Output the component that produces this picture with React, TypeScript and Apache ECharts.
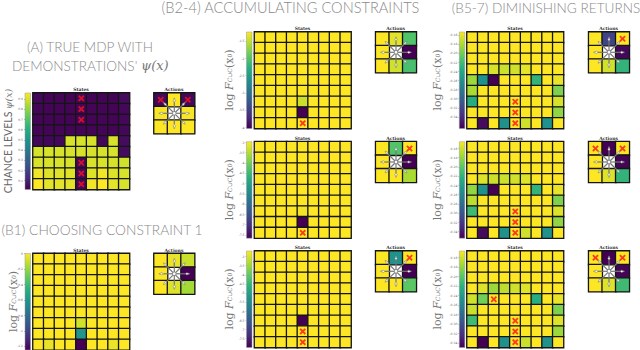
import React, { useEffect, useRef } from "react";
import * as echarts from "echarts";

const cats = ["0", "1", "2", "3", "4", "5", "6", "7", "8"];
const actionCats = ["0", "1", "2"];
const viridis = ["#440154", "#472d7b", "#3b528b", "#2c728e", "#21918c", "#28ae80", "#5ec962", "#addc30", "#fde725"];

const stateA = [
  [.02,.01,.01,.01,.02,.01,.01,.01,.03],
  [.01,.01,.01,.01,.01,.01,.01,.01,.02],
  [.01,.01,.01,.01,.01,.01,.01,.01,.02],
  [.01,.01,.01,.01,.01,.01,.01,.01,.02],
  [.02,.02,.02,.94,.94,.94,.02,.94,.03],
  [.94,.94,.94,.94,.94,.94,.94,.94,.03],
  [.94,.94,.94,.94,.02,.94,.94,.94,.93],
  [.98,.95,.95,.95,.02,.95,.98,.95,.94],
  [1,.96,.96,.96,.02,.98,1,.96,.94],
];
const actionA = [[.02,1,.02],[.99,null,.99],[1,1,1]];
const crossA = [[0,4],[1,4],[2,4],[6,4],[7,4],[8,4]];
const crossActA = [[0,0],[0,2]];

const allYellow = [1,1,1,1,1,1,1,1,1];

const stateB1 = [allYellow,allYellow,allYellow,allYellow,allYellow,allYellow,
  [1,1,1,1,.93,1,1,1,1],
  [1,1,1,1,.52,1,1,1,1],
  [1,.97,1,1,0,1,1,.97,1],
];
const actionB1 = [[1,.97,.92],[1,null,0],[1,.95,.86]];

const stateB2 = [allYellow,allYellow,allYellow,allYellow,allYellow,allYellow,
  [1,1,1,1,.92,1,1,1,1],
  [1,1,1,1,0,1,1,1,1],
  allYellow,
];
const actionB2 = [[1,.96,.72],[1,null,0],[1,.93,.7]];
const crossB2 = [[8,4]];
const crossActB2: number[][] = [];

const stateB3 = [allYellow,allYellow,allYellow,allYellow,allYellow,allYellow,
  [1,1,1,1,.98,1,1,1,1],
  [1,1,1,1,0,1,1,1,1],
  allYellow,
];
const actionB3 = [[1,.72,1],[1,null,0],[1,1,.87]];
const crossB3 = [[8,4]];
const crossActB3 = [[0,2]];

const stateB4 = [allYellow,allYellow,allYellow,allYellow,allYellow,allYellow,
  [1,1,1,1,0,1,1,1,1],
  allYellow,
  allYellow,
];
const actionB4 = [[1,.5,1],[1,null,0],[1,1,.74]];
const crossB4 = [[7,4],[8,4]];
const crossActB4 = [[0,2]];

const stateB5 = [allYellow,allYellow,allYellow,
  [1,1,.94,.92,.93,.96,1,1,1],
  [.85,.5,0,1,1,1,.65,1,.97],
  [.87,1,1,1,1,1,1,1,.8],
  [.62,1,1,1,1,1,1,1,.94],
  [1,1,1,1,1,1,1,1,.83],
  [1,.03,1,.5,1,.93,1,.5,1],
];
const actionB5 = [[1,.2,1],[1,null,.02],[1,.93,.65]];
const crossB5 = [[6,4],[7,4],[8,4]];
const crossActB5 = [[0,2]];

const stateB6 = [allYellow,allYellow,allYellow,
  [1,.95,.92,.92,.93,.95,1,1,1],
  [.83,.5,0,1,1,1,.65,1,.97],
  [.9,1,1,1,1,1,1,1,.8],
  [.68,1,1,1,1,1,1,1,.95],
  [1,1,1,1,1,1,1,1,.83],
  [1,.03,1,.5,1,.93,1,.5,1],
];
const actionB6 = [[1,0,1],[1,null,.01],[1,.95,.65]];
const crossB6 = [[6,4],[7,4],[8,4]];
const crossActB6 = [[0,0],[0,2]];

const stateB7 = [allYellow,allYellow,allYellow,
  [1,.95,.85,.9,.93,.95,1,1,1],
  [.93,.78,1,1,1,1,.62,1,.97],
  [.92,1,1,1,1,1,1,1,.8],
  [.68,1,1,1,1,1,1,1,.95],
  [1,1,1,1,1,1,1,1,.85],
  [1,0,1,.5,1,.92,1,.5,1],
];
const actionB7 = [[1,0,1],[1,null,.01],[1,.95,.68]];
const crossB7 = [[4,2],[6,4],[7,4],[8,4]];
const crossActB7 = [[0,0],[0,2]];

const ticksA = [0.9,0.8,0.7,0.6,0.5,0.4,0.3,0.2,0.1];
const rangeA = [0.013, 0.959];
const ticksB1 = [0,-0.2,-0.4,-0.6,-0.8,-1,-1.2];
const rangeB1 = [-1.249, 0];
const ticksB2 = [-1.5,-2,-2.5,-3,-3.5,-4];
const rangeB2 = [-4.03, -1.24];
const ticksB3 = [-3,-3.5,-4,-4.5,-5,-5.5,-6,-6.5,-7,-7.5];
const rangeB3 = [-7.66, -2.97];
const ticksB4 = [-3,-3.5,-4,-4.5,-5,-5.5,-6,-6.5,-7,-7.5];
const rangeB4 = [-7.99, -2.69];
const ticksB5 = [-9.16,-9.18,-9.2,-9.22,-9.24,-9.26,-9.28,-9.3,-9.32,-9.34];
const rangeB5 = [-9.3655, -9.1534];
const ticksB6 = ticksB5;
const rangeB6 = [-9.3544, -9.1457];
const ticksB7 = ticksB5;
const rangeB7 = [-9.349, -9.1459];

const titles = [
  { text: "(A) TRUE MDP WITH", x: 90, y: 48, size: 13.6 },
  { text: "(B1) CHOOSING CONSTRAINT 1", x: 102, y: 230, size: 13.8 },
  { text: "(B2-4) ACCUMULATING CONSTRAINTS", x: 290.5, y: 8, size: 14.6 },
  { text: "(B5-7) DIMINISHING RETURNS", x: 546, y: 9, size: 13.6 },
];

const panels = [
  { x: 33, y: 93, bar: 25, ax: 154, state: stateA, action: actionA, cross: crossA, crossAct: crossActA, ticks: ticksA, range: rangeA, dec: 1, isA: true, lx: 8 },
  { x: 33, y: 253.5, bar: 25, ax: 154, state: stateB1, action: actionB1, cross: [], crossAct: [], ticks: ticksB1, range: rangeB1, dec: 1, isA: false, lx: 13 },
  { x: 254.5, y: 32, bar: 246.5, ax: 375.7, state: stateB2, action: actionB2, cross: crossB2, crossAct: crossActB2, ticks: ticksB2, range: rangeB2, dec: 1, isA: false, lx: 229 },
  { x: 254.5, y: 141.7, bar: 246.5, ax: 375.7, state: stateB3, action: actionB3, cross: crossB3, crossAct: crossActB3, ticks: ticksB3, range: rangeB3, dec: 1, isA: false, lx: 229 },
  { x: 254.5, y: 251, bar: 246.5, ax: 375.7, state: stateB4, action: actionB4, cross: crossB4, crossAct: crossActB4, ticks: ticksB4, range: rangeB4, dec: 1, isA: false, lx: 229 },
  { x: 467, y: 32, bar: 459.3, ax: 588.7, state: stateB5, action: actionB5, cross: crossB5, crossAct: crossActB5, ticks: ticksB5, range: rangeB5, dec: 2, isA: false, lx: 437 },
  { x: 467, y: 141.7, bar: 459.3, ax: 588.7, state: stateB6, action: actionB6, cross: crossB6, crossAct: crossActB6, ticks: ticksB6, range: rangeB6, dec: 2, isA: false, lx: 437 },
  { x: 467, y: 251, bar: 459.3, ax: 588.7, state: stateB7, action: actionB7, cross: crossB7, crossAct: crossActB7, ticks: ticksB7, range: rangeB7, dec: 2, isA: false, lx: 437 },
];

const X_PATH = "path://M2 0 L5 3 L8 0 L10 2 L7 5 L10 8 L8 10 L5 7 L2 10 L0 8 L3 5 L0 2 Z";
const TITLE_STYLE = { fontWeight: 300, color: "#8a8a8a", fontFamily: "Lato" };
const SMALL_HEAD = { fontSize: 4.5, fontWeight: "bold", color: "#333", fontFamily: "DejaVu Serif" };

function toCells(m: (number | null)[][]) {
  const out: any[] = [];
  m.forEach((row, r) => row.forEach((v, c) => { if (v !== null) out.push([c, r, v]); }));
  return out;
}
function toCross(m: number[][]) {
  return m.map(([r, c]) => [c, r]);
}

function buildOption() {
  const grid: any[] = [], xAxis: any[] = [], yAxis: any[] = [], series: any[] = [], title: any[] = [];
  const heatIdx: number[] = [];
  const off = { show: false };

  const addGrid = (left: number, top: number, w: number, h: number, catsUsed: string[]) => {
    const i = grid.length;
    grid.push({ left, top, width: w, height: h, show: true, borderColor: "#777", borderWidth: 1, backgroundColor: "#fff" });
    xAxis.push({ gridIndex: i, type: "category", data: catsUsed, axisLine: off, axisTick: off, axisLabel: off, splitLine: off });
    yAxis.push({ gridIndex: i, type: "category", data: catsUsed, inverse: true, axisLine: off, axisTick: off, axisLabel: off, splitLine: off });
    return i;
  };

  const addHeat = (i: number, m: (number | null)[][], cross: number[][], size: number) => {
    heatIdx.push(series.length);
    series.push({
      type: "heatmap", xAxisIndex: i, yAxisIndex: i, data: toCells(m),
      itemStyle: { borderColor: "#151515", borderWidth: 1.3 }, silent: true,
    });
    if (cross.length) {
      series.push({
        type: "scatter", xAxisIndex: i, yAxisIndex: i, data: toCross(cross), symbol: X_PATH,
        symbolSize: size, itemStyle: { color: "#fa1020" }, z: 5, silent: true,
      });
    }
  };

  panels.forEach((p) => {
    const b = grid.length;
    const barGradient = new echarts.graphic.LinearGradient(0, 1, 0, 0,
      viridis.map((c, k) => ({ offset: k / (viridis.length - 1), color: c })));
    grid.push({ left: p.bar, top: p.y, width: 5.5, height: 96.5, show: true, borderColor: "#999", borderWidth: 0.5, backgroundColor: barGradient });
    xAxis.push({ gridIndex: b, type: "category", data: ["v"], axisLine: off, axisTick: off, axisLabel: off, splitLine: off });
    yAxis.push({
      gridIndex: b, type: "value", min: p.range[0], max: p.range[1], scale: true,
      axisLine: off, splitLine: off,
      axisTick: { show: true, length: 1, customValues: p.ticks, lineStyle: { color: "#888", width: 0.5 } },
      axisLabel: {
        show: true, fontSize: 3, color: "#555", margin: 2, customValues: p.ticks, fontFamily: "DejaVu Serif",
        showMinLabel: true, showMaxLabel: true,
        formatter: (v: number) => (p.dec === 2 || !Number.isInteger(v) ? v.toFixed(p.dec) : String(v)),
      },
    });

    const s = addGrid(p.x, p.y, 96.5, 96.5, cats);
    addHeat(s, p.state, p.cross, 6.5);
    title.push({ text: "States", left: p.x + 48, top: p.y - 6, textAlign: "center", padding: 0, textStyle: SMALL_HEAD });

    const a = addGrid(p.ax, p.y, 40.6, 40.6, actionCats);
    addHeat(a, p.action, p.crossAct, 6.5);
    title.push({ text: "Actions", left: p.ax + 20, top: p.y - 6, textAlign: "center", padding: 0, textStyle: SMALL_HEAD });

    series.push({
      type: "custom", xAxisIndex: a, yAxisIndex: a, z: 6, silent: true,
      data: [[0,0],[1,0],[2,0],[0,1],[2,1],[0,2],[1,2],[2,2]],
      renderItem: (_: any, api: any) => {
        const from = api.coord([1, 1]);
        const to = api.coord([api.value(0), api.value(1)]);
        const dx = to[0] - from[0], dy = to[1] - from[1];
        const len = Math.hypot(dx, dy);
        const ux = dx / len, uy = dy / len;
        const L = 15.5;
        const ex = from[0] + ux * L, ey = from[1] + uy * L;
        const bx = from[0] + ux * (L - 4.5), by = from[1] + uy * (L - 4.5);
        const mx = from[0] + ux * (L - 3), my = from[1] + uy * (L - 3);
        return { type: "group", children: [
          { type: "line", shape: { x1: from[0], y1: from[1], x2: bx, y2: by }, style: { stroke: "#777", lineWidth: 1.2 } },
          { type: "polygon", shape: { points: [[ex, ey], [mx - uy * 1.1, my + ux * 1.1], [bx, by], [mx + uy * 1.1, my - ux * 1.1]] },
            style: { fill: "#fff", stroke: "#777", lineWidth: 0.6 } },
        ] };
      },
    });
    series.push({
      type: "custom", xAxisIndex: a, yAxisIndex: a, z: 7, silent: true, data: [[1, 1]],
      renderItem: (_: any, api: any) => {
        const c = api.coord([1, 1]);
        return { type: "circle", shape: { cx: c[0], cy: c[1], r: 1.8 }, style: { fill: "#fff", stroke: "#777", lineWidth: 0.8 } };
      },
    });
  });

  titles.forEach((t) => {
    title.push({ text: t.text, left: t.x, top: t.y - 8, textAlign: "center", padding: 0, textStyle: { ...TITLE_STYLE, fontSize: t.size } });
  });
  title.push({ text: "DEMONSTRATIONS'", left: 12, top: 59, padding: 0, textStyle: { ...TITLE_STYLE, fontSize: 13.6 } });
  title.push({
    text: "ψ(x)", left: 141, top: 59, padding: 0,
    textStyle: { fontSize: 13, fontStyle: "italic", fontWeight: "normal", color: "#777", fontFamily: "DejaVu Serif" },
  });

  const graphic: any[] = panels.map((p) => ({
    type: "text", x: p.lx, y: p.y + 48, rotation: Math.PI / 2,
    style: p.isA
      ? {
          text: "CHANCE LEVELS {i|ψ(x)}", fontSize: 10.5, fontFamily: "Lato", fill: "#666",
          align: "center", verticalAlign: "middle",
          rich: { i: { fontFamily: "DejaVu Serif", fontStyle: "italic", fontSize: 9.5, fill: "#777" } },
        }
      : {
          text: "log {i|F}{s|C∪C}(x{s|0})", fontSize: 11, fontFamily: "DejaVu Serif", fill: "#777",
          align: "center", verticalAlign: "middle",
          rich: {
            i: { fontFamily: "DejaVu Serif", fontStyle: "italic", fontSize: 11, fill: "#777" },
            s: { fontFamily: "DejaVu Serif", fontStyle: "italic", fontSize: 6, fill: "#777" },
          },
        },
  }));

  return {
    animation: false, backgroundColor: "#fff", title, grid, xAxis, yAxis, series, graphic,
    visualMap: { show: false, min: 0, max: 1, seriesIndex: heatIdx, inRange: { color: viridis } },
  };
}

export default function App() {
  const ref = useRef<HTMLDivElement>(null);
  useEffect(() => {
    const chart = echarts.init(ref.current!, null, { renderer: "svg" });
    chart.setOption(buildOption() as any);
    return () => chart.dispose();
  }, []);
  return <div ref={ref} style={{ position: "fixed", left: 0, top: 0, width: 640, height: 350 }} />;
}
